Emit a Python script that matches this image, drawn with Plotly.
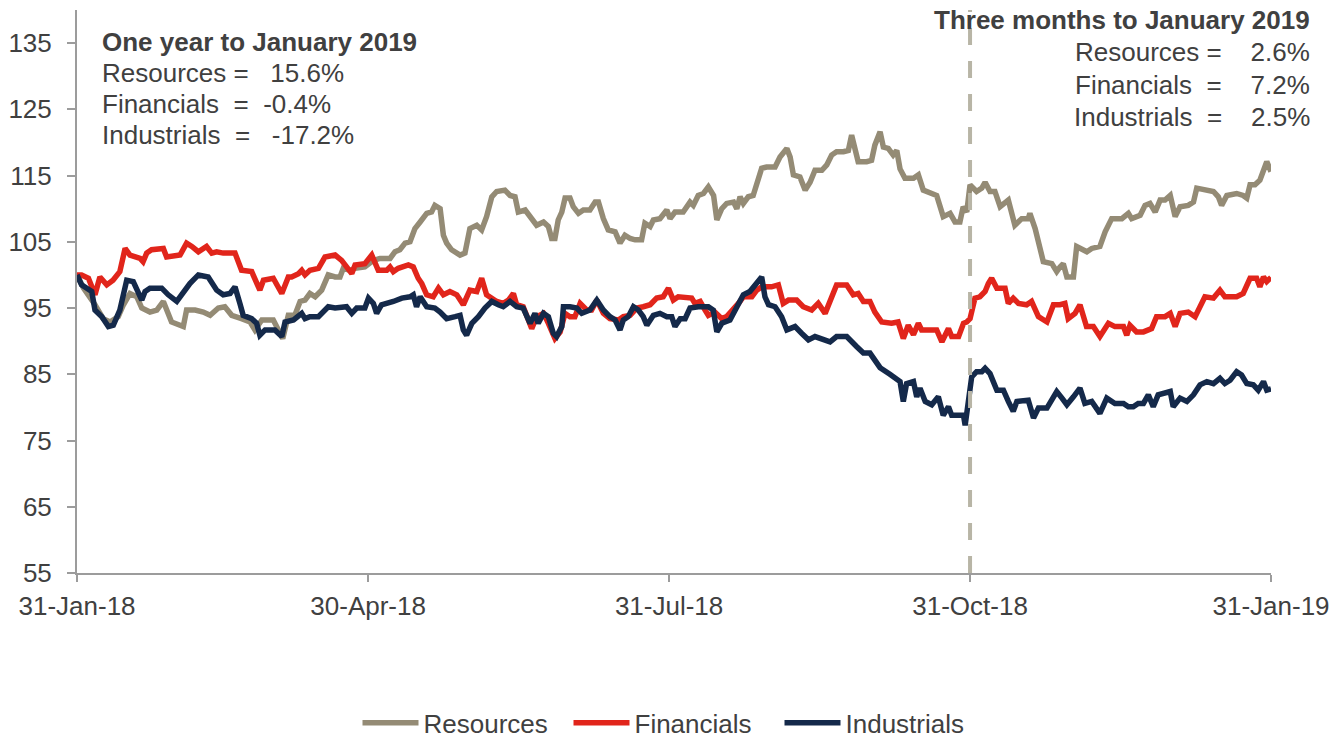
import pandas as pd
import plotly.graph_objects as go

# Index levels (31-Jan-18 = 100), sampled by days elapsed since 31-Jan-18
BASE_DATE = "2018-01-31"

res_days = [0, 2, 5.5, 8.0, 10.1, 12.6, 14.2, 16.2, 18.3, 19.8, 22.3, 24.4, 26.4, 27.9, 28.9, 32.5, 33.5, 36.1,
            38.6, 40.7, 43.2, 45.2, 47.3, 50.3, 52.9, 54.4, 56.5, 60.0, 62.9, 64.6, 66.6, 68.2, 69.7, 71.2, 72.8,
            74.8, 76.8, 78.9, 80.4, 81.4, 83.5, 85.0, 88.0, 90.6, 92.6, 95.7, 97.2, 98.7, 100.3, 101.8, 103.3,
            104.9, 106.9, 108.4, 109.4, 111.0, 112.0, 113.0, 114.5, 117.1, 118.6, 120.1, 122.2, 123.7, 125.2,
            126.8, 128.3, 130.8, 132.4, 133.9, 134.9, 137.0, 139.0, 140.5, 142.6, 144.1, 145.1, 146.1, 147.1,
            148.2, 149.2, 150.7, 151.7, 153.3, 154.8, 156.8, 158.4, 159.4, 160.9, 162.4, 164.5, 166.0, 167.5,
            169.1, 170.6, 172.6, 173.6, 175.2, 176.2, 178.2, 180.3, 181.3, 182.8, 185.3, 187.4, 188.4, 189.9,
            191.5, 193.0, 194.6, 195.6, 197.1, 198.6, 200.7, 201.7, 202.7, 203.7, 205.2, 206.7, 207.8, 209.3,
            210.8, 213.4, 214.9, 217.0, 218.0, 219.0, 221.0, 222.6, 224.1, 225.6, 227.7, 229.2, 230.7, 232.2,
            234.3, 235.8, 236.8, 237.8, 238.8, 241.4, 242.9, 243.9, 245.5, 246.5, 248.0, 249.5, 250.6, 251.6,
            253.1, 255.7, 257.2, 258.7, 261.3, 262.8, 264.8, 266.9, 268.4, 269.9, 270.9, 272.0, 273.0, 275.0,
            276.6, 277.6, 279.1, 280.6, 282.2, 284.7, 286.7, 288.8, 290.8, 291.3, 292.9, 294.4, 295.4, 298.0,
            299.5, 300.5, 301.5, 302.6, 304.6, 305.6, 307.2, 308.7, 310.2, 312.7, 314.3, 316.3, 319.4, 321.4,
            322.4, 325.0, 326.5, 328.0, 329.6, 331.1, 332.6, 334.2, 335.7, 337.2, 339.7, 341.3, 342.3, 344.8,
            347.4, 348.9, 349.9, 351.5, 354.5, 356.5, 357.6, 358.6, 360.1, 361.6, 362.7, 363.7, 365]
res_vals = [100.0, 98.0, 95.5, 93.4, 92.9, 93.7, 95.5, 97.2, 96.7, 95.0, 94.4, 94.7, 96.0, 94.4, 92.9, 92.2, 94.7,
            94.7, 94.4, 93.9, 95.0, 95.2, 93.9, 93.4, 92.9, 91.7, 93.2, 93.2, 90.4, 93.9, 93.9, 96.0, 96.2, 97.2,
            96.7, 97.7, 100.0, 99.7, 99.7, 101.0, 100.7, 101.0, 101.2, 102.2, 102.5, 102.5, 103.5, 103.8, 104.8,
            105.0, 107.0, 108.0, 109.3, 109.5, 110.5, 110.0, 106.0, 104.8, 103.8, 103.0, 103.3, 107.0, 107.5,
            106.8, 108.8, 111.8, 112.6, 112.8, 112.0, 111.8, 109.5, 109.8, 108.5, 107.5, 108.0, 107.3, 105.5,
            105.5, 108.3, 109.5, 111.6, 111.6, 110.3, 109.3, 109.8, 109.8, 111.0, 111.0, 108.5, 106.8, 106.5,
            104.8, 106.0, 105.5, 105.3, 105.3, 107.8, 107.3, 108.3, 108.5, 109.8, 108.5, 109.5, 109.5, 111.0,
            110.5, 112.0, 112.3, 113.3, 112.0, 108.3, 110.0, 110.8, 111.0, 110.0, 111.8, 110.8, 111.8, 112.0,
            114.0, 116.1, 116.3, 116.3, 117.8, 119.1, 117.8, 115.1, 114.8, 112.8, 114.0, 115.8, 115.8, 116.6,
            118.1, 118.6, 118.6, 118.8, 121.1, 118.8, 117.1, 117.1, 117.3, 119.6, 121.6, 119.3, 119.1, 118.1,
            118.8, 116.0, 114.6, 114.6, 115.1, 112.8, 112.3, 112.0, 108.8, 109.3, 108.0, 108.0, 110.3, 109.5,
            113.6, 112.6, 113.1, 114.0, 112.6, 112.6, 110.3, 111.3, 107.5, 108.5, 108.5, 109.3, 107.0, 104.3,
            102.0, 101.7, 100.5, 101.2, 101.7, 99.7, 99.7, 104.3, 103.8, 103.5, 104.0, 104.3, 106.5, 108.5,
            108.5, 109.3, 108.5, 109.0, 110.5, 110.8, 109.5, 111.3, 111.3, 112.0, 108.8, 110.3, 110.5, 111.0,
            113.1, 112.8, 112.6, 111.8, 110.5, 112.0, 112.3, 112.0, 111.6, 113.6, 113.6, 114.3, 115.8, 117.1,
            115.6]

fin_days = [0, 1.4, 3.5, 5.5, 7.0, 9.1, 11.0, 13.1, 14.7, 16.2, 19.3, 20.2, 21.3, 22.8, 26.4, 27.4, 31.5, 33.5,
            35.1, 37.1, 39.6, 41.2, 42.7, 44.7, 48.3, 50.3, 53.4, 55.9, 57.0, 60.0, 62.6, 64.6, 65.6, 67.7, 68.7,
            69.7, 71.2, 73.8, 75.8, 78.9, 80.9, 82.9, 84.0, 85.0, 88.0, 90.1, 91.1, 92.1, 94.7, 95.7, 96.7, 98.2,
            101.3, 102.8, 104.3, 105.4, 106.9, 108.9, 110.5, 112.0, 114.0, 116.1, 118.1, 120.1, 122.2, 123.7,
            125.2, 127.3, 128.3, 130.3, 131.9, 133.4, 134.4, 136.4, 138.0, 139.0, 140.5, 142.6, 144.1, 146.1,
            147.7, 149.2, 150.7, 152.2, 153.8, 155.8, 157.3, 158.9, 160.9, 162.9, 165.5, 167.0, 169.1, 171.1,
            173.1, 175.2, 177.2, 179.2, 180.8, 182.3, 183.8, 185.9, 187.9, 188.9, 190.5, 192.0, 193.0, 195.0,
            197.1, 198.6, 200.6, 202.2, 203.7, 206.3, 207.8, 209.3, 212.3, 214.4, 215.9, 217.5, 220.0, 222.0,
            224.6, 226.6, 228.7, 230.2, 232.2, 235.3, 237.3, 238.8, 240.4, 242.4, 243.9, 246.0, 249.0, 251.0,
            252.6, 254.1, 255.7, 257.2, 258.2, 259.8, 262.8, 264.4, 266.4, 267.4, 269.5, 271.0, 272.0, 273.0,
            274.5, 276.0, 277.6, 278.6, 279.6, 281.2, 283.7, 284.7, 286.2, 287.8, 290.3, 291.8, 293.9, 296.5,
            298.5, 300.5, 302.0, 303.0, 305.1, 306.6, 308.6, 310.7, 312.7, 315.3, 317.3, 319.9, 320.9, 321.9,
            323.9, 326.0, 328.5, 330.0, 332.6, 334.2, 335.7, 337.2, 339.7, 341.8, 344.8, 347.4, 349.4, 350.9,
            354.5, 356.5, 358.6, 360.6, 361.6, 362.7, 363.7, 365]
fin_vals = [100.0, 100.0, 99.5, 97.0, 99.7, 98.5, 99.2, 100.5, 104.0, 103.0, 102.5, 102.0, 103.3, 103.8, 104.0,
            102.7, 103.0, 104.8, 104.3, 103.5, 104.3, 103.3, 103.5, 103.3, 103.3, 100.7, 100.5, 97.7, 99.2, 99.5,
            97.2, 99.7, 99.7, 100.2, 100.7, 100.0, 100.7, 101.0, 102.7, 103.0, 102.2, 101.0, 100.2, 101.5, 101.7,
            103.0, 102.0, 100.7, 100.7, 101.2, 100.5, 101.0, 101.5, 101.2, 99.5, 98.7, 97.0, 96.7, 98.0, 97.0,
            97.5, 97.0, 95.5, 97.7, 97.5, 99.5, 97.0, 96.2, 96.0, 95.7, 96.2, 97.2, 95.5, 95.2, 93.2, 91.9, 93.7,
            94.2, 92.7, 90.4, 91.4, 94.2, 93.7, 93.7, 95.7, 94.7, 94.7, 96.2, 94.2, 93.4, 93.2, 93.7, 93.9, 95.0,
            95.2, 95.5, 96.5, 96.7, 98.0, 96.2, 96.7, 96.5, 96.5, 95.7, 96.0, 94.7, 93.9, 94.4, 93.4, 93.7, 94.7,
            95.7, 96.7, 96.7, 97.7, 98.2, 98.2, 98.5, 95.7, 96.2, 96.2, 95.2, 94.7, 95.7, 94.2, 96.2, 98.5, 98.5,
            97.0, 97.2, 96.0, 96.0, 94.4, 92.9, 92.7, 92.9, 90.4, 92.4, 91.0, 92.7, 91.7, 91.7, 91.7, 89.9, 91.9,
            90.7, 90.7, 92.7, 92.9, 93.4, 96.5, 96.7, 97.5, 98.7, 99.5, 98.0, 98.0, 95.7, 96.5, 95.7, 95.5, 96.0,
            93.7, 92.9, 95.5, 95.5, 95.7, 93.4, 94.2, 95.5, 92.2, 92.2, 90.7, 92.7, 92.2, 92.2, 90.9, 92.4, 91.4,
            91.4, 91.9, 93.7, 93.7, 94.2, 92.2, 94.2, 94.4, 93.7, 96.7, 96.5, 97.7, 96.7, 96.7, 97.2, 99.5, 99.5,
            98.2, 99.7, 99.0, 99.6]

ind_days = [0, 1.4, 3.0, 4.5, 5.5, 7.6, 9.6, 11.1, 13.1, 15.2, 17.2, 19.8, 20.8, 22.3, 25.9, 27.9, 30.5, 32.5,
            34.5, 37.1, 40.1, 42.7, 44.7, 46.8, 48.3, 49.8, 50.8, 53.4, 54.9, 55.9, 57.5, 60.5, 62.6, 63.6, 66.2,
            68.7, 69.7, 71.2, 73.8, 76.8, 78.9, 82.4, 84.0, 85.5, 88.0, 89.1, 90.6, 91.6, 93.1, 96.7, 99.3, 101.8,
            102.8, 103.8, 104.9, 106.9, 109.4, 111.0, 113.0, 115.6, 117.1, 118.1, 119.1, 120.7, 122.7, 124.7,
            126.8, 128.8, 130.3, 132.4, 134.4, 136.4, 138.5, 140.0, 141.0, 142.6, 144.1, 145.6, 146.6, 148.2,
            148.7, 150.7, 152.8, 154.3, 156.8, 158.9, 160.9, 162.9, 164.5, 166.0, 167.0, 168.5, 170.1, 171.6,
            173.1, 174.2, 176.2, 178.2, 180.3, 181.8, 182.8, 184.4, 185.9, 187.4, 189.9, 193.0, 194.5, 195.6,
            197.1, 199.6, 201.7, 203.7, 205.7, 207.8, 209.3, 210.3, 211.4, 213.4, 215.4, 217.0, 219.5, 221.5,
            223.6, 225.6, 227.7, 230.2, 232.2, 235.3, 238.3, 240.4, 242.4, 243.9, 245.5, 248.5, 251.6, 252.6,
            253.6, 255.7, 256.7, 257.7, 259.3, 261.3, 263.3, 264.8, 266.4, 267.4, 271.0, 271.5, 272.5, 273.5,
            275.0, 276.6, 277.6, 279.1, 281.2, 283.2, 284.7, 286.2, 287.3, 289.3, 290.8, 292.4, 293.9, 296.5,
            298.5, 299.5, 301.1, 302.6, 304.6, 306.6, 308.1, 310.2, 312.7, 314.8, 317.3, 319.9, 321.4, 322.9,
            324.4, 326.0, 327.5, 329.0, 330.5, 332.6, 334.2, 335.1, 337.2, 339.3, 341.3, 343.3, 345.4, 347.4,
            349.4, 350.9, 352.5, 354.5, 356.0, 357.6, 359.6, 361.1, 362.7, 363.7, 365]
ind_vals = [100.0, 98.5, 98.0, 97.5, 94.7, 93.7, 92.2, 92.4, 94.7, 99.2, 99.0, 96.2, 97.5, 98.0, 98.0, 97.0, 96.0,
            97.5, 98.7, 100.0, 99.7, 97.7, 97.0, 97.2, 98.2, 95.7, 93.9, 93.4, 92.7, 90.9, 91.7, 91.7, 90.7, 92.9,
            93.2, 94.2, 93.4, 93.7, 93.7, 95.2, 95.0, 95.2, 94.2, 95.0, 95.0, 96.5, 95.7, 94.2, 95.5, 96.0, 96.5,
            96.7, 97.0, 95.2, 96.7, 95.2, 95.0, 94.4, 93.4, 93.7, 93.9, 91.7, 90.9, 92.7, 93.7, 95.0, 96.0, 95.5,
            95.2, 96.0, 95.2, 95.0, 92.7, 94.2, 92.7, 94.2, 93.7, 91.2, 90.7, 92.2, 95.2, 95.2, 95.0, 94.2, 94.7,
            96.2, 94.7, 93.7, 93.2, 91.7, 93.2, 93.7, 95.2, 94.7, 93.7, 92.4, 93.9, 94.2, 93.7, 93.7, 92.2, 93.4,
            93.4, 95.0, 95.2, 95.2, 94.7, 91.4, 92.7, 93.2, 95.2, 97.0, 97.5, 98.7, 99.7, 96.7, 95.5, 95.2, 93.7,
            91.7, 92.2, 91.2, 90.2, 90.7, 90.4, 89.9, 90.7, 90.7, 89.2, 88.2, 88.2, 87.2, 86.0, 85.0, 83.9, 80.9,
            83.6, 83.9, 81.6, 82.9, 80.9, 80.4, 81.6, 78.8, 80.1, 78.8, 78.8, 77.3, 81.6, 84.6, 85.4, 85.4, 85.9,
            85.1, 82.6, 82.6, 80.9, 79.4, 80.9, 81.1, 81.1, 78.4, 79.9, 79.9, 81.6, 82.4, 81.4, 80.4, 81.6, 82.9,
            80.6, 80.9, 79.1, 81.4, 80.6, 80.6, 80.1, 80.1, 80.6, 80.6, 81.9, 80.1, 81.9, 82.1, 82.4, 80.1, 81.4,
            80.9, 81.9, 83.4, 83.9, 83.6, 84.4, 83.6, 84.1, 85.4, 84.9, 83.6, 83.4, 82.6, 83.9, 82.6, 82.8]

tick_dates = ["2018-01-31", "2018-04-30", "2018-07-31", "2018-10-31", "2019-01-31"]
tick_labels = ["31-Jan-18", "30-Apr-18", "31-Jul-18", "31-Oct-18", "31-Jan-19"]
y_ticks = [55, 65, 75, 85, 95, 105, 115, 125, 135]

SP = "&nbsp;"
year_title = "One year to January 2019"
year_lines = ["Resources =" + SP * 3 + "15.6%",
              "Financials" + SP * 2 + "=" + SP * 2 + "-0.4%",
              "Industrials" + SP * 2 + "=" + SP * 3 + "-17.2%"]
quarter_title = "Three months to January 2019"
quarter_lines = ["Resources =" + SP * 4 + "2.6%",
                 "Financials" + SP * 2 + "=" + SP * 4 + "7.2%",
                 "Industrials" + SP * 2 + "=" + SP * 4 + "2.5%"]

FONT = "Liberation Sans, Arial, sans-serif"
TEXT = "#404040"
AXIS = "#9C9C9C"
FS = 26


def to_dates(days):
    return pd.Timestamp(BASE_DATE) + pd.to_timedelta(days, unit="D")


fig = go.Figure()
series = [
    ("Resources", res_days, res_vals, "#948B75"),
    ("Financials", fin_days, fin_vals, "#E1251B"),
    ("Industrials", ind_days, ind_vals, "#14294A"),
]
for name, days, vals, color in series:
    fig.add_trace(go.Scatter(
        x=to_dates(days), y=vals, name=name, mode="lines",
        line=dict(color=color, width=5.5),
    ))

# Start of the three-month window
fig.add_shape(type="line", x0="2018-10-31", x1="2018-10-31", xref="x", yref="paper", y0=0, y1=1,
              line=dict(color="#B8B5A6", width=4, dash="17px,16px"), layer="above")

ann = []
ann.append(dict(text="<b>" + year_title + "</b>", x=0.0193, y=0.9432, xanchor="left"))
for i, t in enumerate(year_lines):
    ann.append(dict(text=t, x=0.0193, y=0.9432 - (i + 1) * 0.0551, xanchor="left"))
ann.append(dict(text="<b>" + quarter_title + "</b>", x=1.0343, y=0.9822, xanchor="right"))
for i, t in enumerate(quarter_lines):
    ann.append(dict(text=t, x=1.0343, y=0.9822 - (i + 1) * 0.0574, xanchor="right"))
for a in ann:
    fig.add_annotation(xref="paper", yref="paper", yanchor="middle", showarrow=False,
                       font=dict(family=FONT, size=FS, color=TEXT), **a)

fig.update_layout(
    width=1333, height=740,
    margin=dict(l=77, r=62, t=10, b=167, autoexpand=False),
    paper_bgcolor="white", plot_bgcolor="white",
    font=dict(family=FONT, size=FS, color=TEXT),
    showlegend=True,
    legend=dict(orientation="h", x=0.5, xanchor="center", y=-0.266, yanchor="middle",
                itemwidth=56, entrywidth=140, entrywidthmode="pixels",
                font=dict(family=FONT, size=FS, color=TEXT)),
    xaxis=dict(
        range=[tick_dates[0], tick_dates[-1]], tickvals=tick_dates, ticktext=tick_labels,
        showgrid=False, zeroline=False, showline=True, linecolor=AXIS, linewidth=2,
        ticks="outside", ticklen=7, tickcolor=AXIS, tickwidth=2, ticklabelstandoff=2,
        tickfont=dict(family=FONT, size=FS, color=TEXT),
    ),
    yaxis=dict(
        range=[55, 140], tickvals=y_ticks,
        showgrid=False, zeroline=False, showline=True, linecolor=AXIS, linewidth=2,
        ticks="outside", ticklen=8, tickcolor=AXIS, tickwidth=2, ticklabelstandoff=10,
        tickfont=dict(family=FONT, size=FS, color=TEXT),
    ),
)

fig.write_html("out.html")
